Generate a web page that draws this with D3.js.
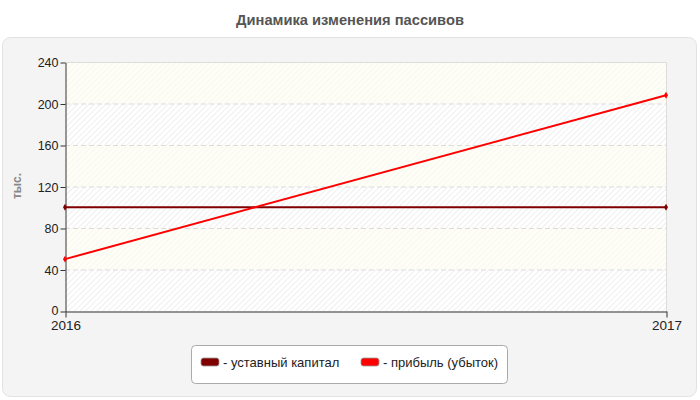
<!DOCTYPE html>
<html><head><meta charset="utf-8">
<script src="https://cdn.jsdelivr.net/npm/d3@7/dist/d3.min.js"></script>
<style>body{margin:0;background:#fff;font-family:"Liberation Sans",Arial,sans-serif}</style>
</head><body><svg id="c" width="700" height="400"></svg>
<script>
const years = ["2016","2017"];
const seriesNames = ["уставный капитал","прибыль (убыток)"];
const capital = [100,100];
const profit = [50,208];
const yTicks = [0,40,80,120,160,200,240];
const colors = ["#800000","#ff0000"];

const svg = d3.select("#c");
const m = {l:65,r:666,t:62,b:311};
const x = d3.scalePoint().domain(years).range([m.l,m.r]);
const y = d3.scaleLinear().domain([0,240]).range([m.b,m.t]);

svg.append("text").attr("x",350).attr("y",25).attr("text-anchor","middle")
  .attr("font-size",14.7).attr("font-weight","bold").attr("fill","#555").text("Динамика изменения пассивов");

svg.append("rect").attr("x",2.5).attr("y",37.5).attr("width",694).attr("height",359).attr("rx",8)
  .attr("fill","#f4f4f4").attr("stroke","#e2e2e2");

const defs = svg.append("defs");
const pat = defs.append("pattern").attr("id","h").attr("patternUnits","userSpaceOnUse")
  .attr("width",4).attr("height",4).attr("patternTransform","rotate(45)");
pat.append("line").attr("x1",0).attr("y1",0).attr("x2",0).attr("y2",4).attr("stroke","#e6e6e6").attr("stroke-width",1.3);

const g = svg.append("g");
for(let i=0;i<yTicks.length-1;i++){
  const yy = y(yTicks[i+1]), hh = y(yTicks[i])-y(yTicks[i+1]);
  g.append("rect").attr("x",m.l).attr("width",m.r-m.l).attr("y",yy).attr("height",hh)
    .attr("fill", i%2===0 ? "#ffffff" : "#fefef6");
  g.append("rect").attr("x",m.l).attr("width",m.r-m.l).attr("y",yy).attr("height",hh)
    .attr("fill","url(#h)").attr("opacity", i%2===0 ? 1 : 0.4);
}

// grid
yTicks.slice(1,-1).forEach(t=>{
  g.append("line").attr("x1",m.l).attr("x2",m.r).attr("y1",y(t)+0.5).attr("y2",y(t)+0.5)
    .attr("stroke","#dcdcdc").attr("stroke-dasharray","5,3");
});
g.append("line").attr("x1",m.l).attr("x2",m.r).attr("y1",m.t+0.5).attr("y2",m.t+0.5).attr("stroke","#ddd");
g.append("line").attr("x1",m.r+0.5).attr("x2",m.r+0.5).attr("y1",m.t).attr("y2",m.b).attr("stroke","#ddd");

// axes
const ya = svg.append("g").attr("transform",`translate(${m.l+0.5},0.5)`)
  .call(d3.axisLeft(y).tickValues(yTicks).tickSize(5).tickSizeOuter(0));
const xa = svg.append("g").attr("transform",`translate(0.5,${m.b+0.5})`)
  .call(d3.axisBottom(x).tickSize(6).tickSizeOuter(0));
[ya,xa].forEach(a=>{
  a.selectAll("path,line").attr("stroke","#333");
  a.selectAll("text").attr("fill","#222").attr("font-family","Liberation Sans, Arial, sans-serif");
});
ya.selectAll("text").attr("x",-7).attr("font-size",12.5);
ya.selectAll(".tick text").filter(d=>d===0).attr("dy","0.25em");
xa.selectAll("text").attr("y",9).attr("font-size",13.5);

svg.append("text").attr("transform","translate(21,186) rotate(-90)").attr("text-anchor","middle")
  .attr("font-size",12).attr("font-weight","bold").attr("fill","#888").text("тыс.");

// lines
const line = d3.line().x((d,i)=>x(years[i])).y(d=>y(d));
[capital,profit].forEach((s,k)=>{
  svg.append("path").datum(s).attr("d",line).attr("fill","none")
    .attr("stroke",colors[k]).attr("stroke-width",k===0?2.2:2);
  s.forEach((v,i)=>{
    svg.append("path").attr("d",d3.symbol(d3.symbolDiamond,14)())
      .attr("transform",`translate(${x(years[i])},${y(v)})`).attr("fill",colors[k]);
  });
});

// legend
svg.append("rect").attr("x",191.5).attr("y",345.5).attr("width",316).attr("height",38).attr("rx",4)
  .attr("fill","#fff").attr("stroke","#aaa");
const lx = [201,361];
seriesNames.forEach((n,k)=>{
  svg.append("rect").attr("x",lx[k]).attr("y",358).attr("width",18).attr("height",8).attr("rx",2.5)
    .attr("fill",colors[k]).attr("stroke","#999").attr("stroke-width",0.8);
  svg.append("text").attr("x",lx[k]+22).attr("y",367).attr("font-size",13).attr("fill","#222").text("- "+n);
});
</script></body></html>
